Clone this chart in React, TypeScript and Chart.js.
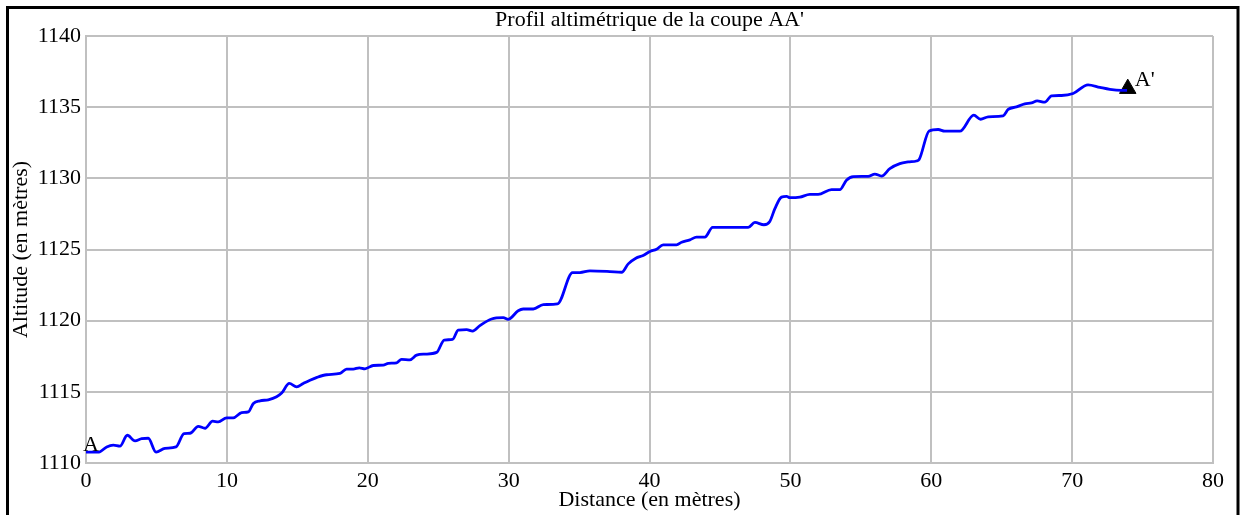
import React, { useEffect, useRef } from 'react';
import { Chart, registerables } from 'chart.js';

Chart.register(...registerables);

const chartTitle = "Profil altimétrique de la coupe AA'";
const xAxisTitle = 'Distance (en mètres)';
const yAxisTitle = 'Altitude (en mètres)';
const startLabel = 'A';
const endLabel = "A'";

const distances = [
  0, 0.92, 1.47, 1.94, 2.41, 2.93, 3.48, 3.95, 4.42, 4.97, 5.6, 6.39, 6.96, 7.38, 7.97, 8.45, 8.99, 9.39,
  9.98, 10.45, 11.05, 11.52, 11.88, 12.35, 12.94, 13.53, 13.89, 14.43, 14.95, 15.42, 15.9, 16.4, 17.08,
  18.03, 18.5, 18.97, 19.4, 19.8, 20.39, 21.1, 21.46, 22.05, 22.4, 22.99, 23.47, 24.06, 24.89, 25.43,
  26.02, 26.42, 27.02, 27.44, 27.96, 28.79, 29.62, 29.97, 30.68, 31.04, 31.75, 32.46, 33.47, 34.54,
  35.06, 35.77, 37.19, 38.02, 38.49, 39.03, 39.55, 40.03, 40.5, 40.97, 41.92, 42.28, 42.87, 43.34,
  43.93, 44.48, 47.0, 47.48, 48.12, 48.54, 48.9, 49.37, 49.73, 49.96, 50.67, 51.38, 51.97, 52.92,
  53.51, 53.98, 54.46, 55.52, 56.0, 56.47, 57.06, 57.77, 58.36, 58.95, 59.14, 59.85, 60.49, 60.96,
  62.03, 63.02, 63.5, 64.04, 65.1, 65.46, 66.05, 66.64, 67.12, 67.52, 68.06, 68.54, 69.25, 70.07,
  71.13, 71.97, 72.68, 73.5, 73.9,
];

const altitudes = [
  1110.77, 1110.77, 1111.13, 1111.25, 1111.18, 1111.95, 1111.55, 1111.71, 1111.74, 1110.77, 1111.03,
  1111.13, 1112.07, 1112.09, 1112.58, 1112.44, 1112.94, 1112.89, 1113.17, 1113.17, 1113.54, 1113.59,
  1114.18, 1114.37, 1114.44, 1114.65, 1114.91, 1115.59, 1115.35, 1115.59, 1115.82, 1116.02, 1116.2,
  1116.29, 1116.6, 1116.6, 1116.69, 1116.62, 1116.85, 1116.88, 1117.0, 1117.04, 1117.28, 1117.25,
  1117.58, 1117.65, 1117.77, 1118.64, 1118.68, 1119.34, 1119.37, 1119.27, 1119.65, 1120.12, 1120.21,
  1120.09, 1120.7, 1120.82, 1120.82, 1121.13, 1121.18, 1123.38, 1123.38, 1123.5, 1123.45, 1123.4,
  1123.99, 1124.39, 1124.58, 1124.86, 1125.02, 1125.33, 1125.33, 1125.51, 1125.68, 1125.87, 1125.87,
  1126.55, 1126.55, 1126.9, 1126.74, 1126.97, 1127.87, 1128.68, 1128.73, 1128.64, 1128.68, 1128.87,
  1128.87, 1129.2, 1129.2, 1129.86, 1130.12, 1130.14, 1130.3, 1130.16, 1130.68, 1131.03, 1131.15,
  1131.22, 1131.32, 1133.33, 1133.43, 1133.31, 1133.31, 1134.44, 1134.15, 1134.32, 1134.39, 1134.84,
  1135.02, 1135.23, 1135.3, 1135.44, 1135.35, 1135.8, 1135.82, 1135.96, 1136.57, 1136.39, 1136.25,
  1136.18, 1136.18,
];

const endMarkerDistance = [73.95];
const endMarkerAltitude = [1136.3];

const xMin = 0;
const xMax = 80;
const xStep = 10;
const yMin = 1110;
const yMax = 1140;
const yStep = 5;

const FONT = '"Liberation Serif", "Times New Roman", serif';
const FS = 22;

export default function App() {
  const canvasRef = useRef<HTMLCanvasElement | null>(null);

  useEffect(() => {
    document.body.style.margin = '0';
    const canvas = canvasRef.current;
    if (!canvas) return;

    const labelPlugin = {
      id: 'pointLabels',
      afterDatasetsDraw(chart: any) {
        const { ctx, scales } = chart;
        const x = scales.x;
        const y = scales.y;
        ctx.save();
        ctx.font = `${FS}px ${FONT}`;
        ctx.fillStyle = '#000';
        ctx.textBaseline = 'alphabetic';
        ctx.textAlign = 'left';
        const sx = x.getPixelForValue(distances[0]);
        const sy = y.getPixelForValue(altitudes[0]);
        ctx.fillText(startLabel, sx - 3, sy - 1);
        const ex = x.getPixelForValue(endMarkerDistance[0]);
        const ey = y.getPixelForValue(endMarkerAltitude[0]);
        ctx.fillText(endLabel, ex + 7, ey - 3);
        ctx.restore();
      },
    };

    const framePlugin = {
      id: 'outerFrame',
      afterDraw(chart: any) {
        const { ctx } = chart;
        ctx.save();
        ctx.strokeStyle = '#000';
        ctx.lineWidth = 3;
        ctx.strokeRect(7.5, 7.5, 1230.5, 540);
        ctx.restore();
      },
    };

    const chart = new Chart(canvas, {
      type: 'line',
      data: {
        datasets: [
          {
            data: distances.map((d, i) => ({ x: d, y: altitudes[i] })),
            borderColor: '#0000ff',
            backgroundColor: '#0000ff',
            borderWidth: 2.8,
            pointRadius: 0,
            fill: false,
            cubicInterpolationMode: 'monotone',
          },
          {
            data: endMarkerDistance.map((d, i) => ({ x: d, y: endMarkerAltitude[i] })),
            showLine: false,
            pointStyle: 'triangle',
            pointRadius: 9.5,
            pointBackgroundColor: '#000',
            pointBorderColor: '#000',
            pointBorderWidth: 1,
          },
        ],
      },
      options: {
        responsive: false,
        animation: false,
        layout: { padding: { top: 0, left: 0, right: 28, bottom: 0 } },
        plugins: {
          legend: { display: false },
          tooltip: { enabled: false },
          title: {
            display: true,
            text: chartTitle,
            fullSize: false,
            color: '#000',
            font: { family: FONT, size: FS, weight: 'normal' },
            padding: { top: 7, bottom: 2.6 },
          },
        },
        scales: {
          x: {
            type: 'linear',
            min: xMin,
            max: xMax,
            afterFit(scale: any) {
              scale.height = 52;
            },
            ticks: {
              stepSize: xStep,
              color: '#000',
              font: { family: FONT, size: FS },
              padding: 5,
              maxRotation: 0,
              callback: (v: any) => String(v),
            },
            grid: { color: '#c0c0c0', lineWidth: 2, drawTicks: false },
            border: { display: true, color: '#c0c0c0', width: 2 },
            title: {
              display: true,
              text: xAxisTitle,
              color: '#000',
              font: { family: FONT, size: FS },
              padding: { top: 0, bottom: 1.8 },
            },
          },
          y: {
            type: 'linear',
            min: yMin,
            max: yMax,
            afterFit(scale: any) {
              scale.width = 86;
            },
            ticks: {
              stepSize: yStep,
              color: '#000',
              font: { family: FONT, size: FS },
              padding: 5,
              callback: (v: any) => String(v),
            },
            grid: { color: '#c0c0c0', lineWidth: 2, drawTicks: false },
            border: { display: true, color: '#c0c0c0', width: 2 },
            title: {
              display: true,
              text: yAxisTitle,
              color: '#000',
              font: { family: FONT, size: FS },
              padding: { top: 7.8, bottom: 0 },
            },
          },
        },
      },
      plugins: [labelPlugin, framePlugin],
    });

    return () => {
      chart.destroy();
    };
  }, []);

  return (
    <div style={{ width: 1241, height: 515 }}>
      <canvas ref={canvasRef} width={1241} height={515} style={{ display: 'block' }} />
    </div>
  );
}
